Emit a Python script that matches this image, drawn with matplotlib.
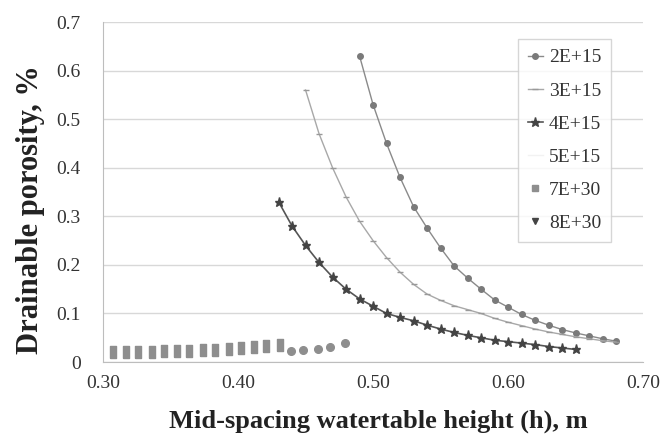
import matplotlib
matplotlib.use("Agg")
import matplotlib.pyplot as plt
from matplotlib.lines import Line2D

plt.rcParams['font.family'] = ['Liberation Serif', 'DejaVu Serif']

x_2e15 = [0.49, 0.50, 0.51, 0.52, 0.53, 0.54, 0.55, 0.56, 0.57, 0.58, 0.59, 0.60,
          0.61, 0.62, 0.63, 0.64, 0.65, 0.66, 0.67, 0.68]
y_2e15 = [0.63, 0.53, 0.45, 0.38, 0.32, 0.276, 0.235, 0.198, 0.173, 0.150, 0.128, 0.113,
          0.098, 0.086, 0.076, 0.067, 0.060, 0.054, 0.048, 0.043]

x_3e15 = [0.45, 0.46, 0.47, 0.48, 0.49, 0.50, 0.51, 0.52, 0.53, 0.54, 0.55, 0.56,
          0.57, 0.58, 0.59, 0.60, 0.61, 0.62, 0.63, 0.64, 0.65, 0.66, 0.67, 0.68]
y_3e15 = [0.56, 0.47, 0.40, 0.34, 0.29, 0.25, 0.215, 0.185, 0.16, 0.14, 0.127, 0.116,
          0.108, 0.10, 0.09, 0.082, 0.075, 0.068, 0.062, 0.057, 0.052, 0.048, 0.044, 0.041]

x_4e15 = [0.43, 0.44, 0.45, 0.46, 0.47, 0.48, 0.49, 0.50, 0.51, 0.52, 0.53, 0.54,
          0.55, 0.56, 0.57, 0.58, 0.59, 0.60, 0.61, 0.62, 0.63, 0.64, 0.65]
y_4e15 = [0.33, 0.28, 0.24, 0.205, 0.175, 0.15, 0.13, 0.115, 0.10, 0.092, 0.085, 0.076,
          0.068, 0.061, 0.055, 0.050, 0.045, 0.042, 0.039, 0.036, 0.032, 0.029, 0.026]

x_7e30 = [0.307, 0.317, 0.326, 0.336, 0.345, 0.355, 0.364, 0.374, 0.383, 0.393,
          0.402, 0.412, 0.421, 0.431]
y_7e30 = [0.020, 0.020, 0.020, 0.021, 0.022, 0.022, 0.023, 0.024, 0.025, 0.026,
          0.028, 0.030, 0.033, 0.035]

x_8e30 = [0.439, 0.448, 0.459, 0.468, 0.479]
y_8e30 = [0.022, 0.024, 0.027, 0.031, 0.040]

x_ticks = [0.30, 0.40, 0.50, 0.60, 0.70]
x_tick_labels = ['0.30', '0.40', '0.50', '0.60', '0.70']
y_ticks = [0, 0.1, 0.2, 0.3, 0.4, 0.5, 0.6, 0.7]
y_tick_labels = ['0', '0.1', '0.2', '0.3', '0.4', '0.5', '0.6', '0.7']

rect = [(-0.32, -0.6), (0.32, -0.6), (0.32, 0.6), (-0.32, 0.6), (-0.32, -0.6)]

fig = plt.figure(figsize=(6.65, 4.41), dpi=100)
ax = fig.add_axes([0.155, 0.179, 0.812, 0.771])

ax.plot(x_2e15, y_2e15, color='#8a8a8a', lw=1.0, marker='o', ms=4, mfc='#7a7a7a', mec='#7a7a7a', zorder=3)
ax.plot(x_3e15, y_3e15, color='#a8a8a8', lw=1.0, marker='_', ms=4, mec='#999999', zorder=3)
ax.plot(x_4e15, y_4e15, color='#555555', lw=1.2, marker='*', ms=6.5, mfc='#444444', mec='#444444', zorder=3)
ax.plot(x_7e30, y_7e30, ls='none', marker=rect, ms=9, mfc='#8e8e8e', mec='#8e8e8e', zorder=3)
ax.plot(x_8e30, y_8e30, ls='none', marker='o', ms=5.5, mfc='#8e8e8e', mec='#8e8e8e', zorder=3)

ax.set_xlim(0.30, 0.70)
ax.set_ylim(0, 0.7)
ax.set_xticks(x_ticks)
ax.set_xticklabels(x_tick_labels)
ax.set_yticks(y_ticks)
ax.set_yticklabels(y_tick_labels)
ax.tick_params(length=0, labelsize=14, colors='#333333')
ax.tick_params(axis='x', pad=9)
ax.tick_params(axis='y', pad=16)
ax.yaxis.grid(True, color='#d8d8d8', lw=1.0)
ax.set_axisbelow(True)
for s in ['top', 'right']:
    ax.spines[s].set_visible(False)
for s in ['left', 'bottom']:
    ax.spines[s].set_color('#bdbdbd')

fig.text(378 / 665, 1 - 421 / 441, 'Mid-spacing watertable height (h), m', fontsize=19,
         fontweight='bold', color='#222222', ha='center', va='center')
fig.text(31 / 665, 1 - 210 / 441, 'Drainable porosity, %', fontsize=22,
         fontweight='bold', color='#222222', ha='center', va='center', rotation=90)

handles = [
    Line2D([], [], color='#8a8a8a', lw=1.0, marker='o', ms=4, mfc='#7a7a7a', mec='#7a7a7a'),
    Line2D([], [], color='#a8a8a8', lw=1.0, marker='_', ms=4, mec='#999999'),
    Line2D([], [], color='#555555', lw=1.2, marker='*', ms=6.5, mfc='#444444', mec='#444444'),
    Line2D([], [], color='#f2f2f2', lw=1.0),
    Line2D([], [], ls='none', marker='s', ms=5, mfc='#8e8e8e', mec='#8e8e8e'),
    Line2D([], [], ls='none', marker='v', ms=5, mfc='#444444', mec='#444444'),
]
labels = ['2E+15', '3E+15', '4E+15', '5E+15', '7E+30', '8E+30']
leg = ax.legend(handles, labels, loc='upper left', bbox_to_anchor=(0.768, 0.95),
                frameon=True, fancybox=False, edgecolor='#cccccc', fontsize=14,
                handlelength=0.8, handletextpad=0.3, labelspacing=0.8, borderpad=0.5,
                borderaxespad=0)
leg.get_frame().set_linewidth(1.0)
for t in leg.get_texts():
    t.set_color('#333333')

fig.savefig('out.png', dpi=100, facecolor='white')
